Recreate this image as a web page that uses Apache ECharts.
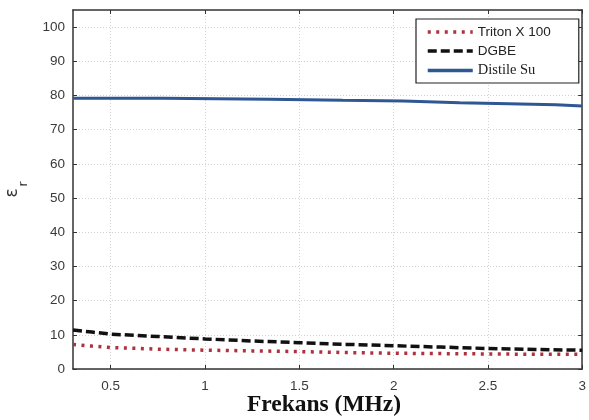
<!DOCTYPE html>
<html>
<head>
<meta charset="utf-8">
<script src="https://cdn.jsdelivr.net/npm/echarts@6/dist/echarts.min.js"></script>
<style>
  html, body { margin: 0; padding: 0; background: #fff; }
  #chart { width: 589px; height: 420px; }
</style>
</head>
<body>
<div id="chart"></div>
<script>
// Relative permittivity vs frequency for three liquids
const seriesNames = ['Triton X 100', 'DGBE', 'Distile Su'];

const tritonFreq = [0.3, 0.4, 0.5, 0.75, 1.0, 1.25, 1.5, 1.75, 2.0, 2.25, 2.5, 2.75, 3.0];
const tritonEps  = [7.2, 6.7, 6.3, 5.8, 5.5, 5.3, 5.1, 4.8, 4.6, 4.5, 4.4, 4.3, 4.3];

const dgbeFreq = [0.3, 0.4, 0.5, 0.75, 1.0, 1.25, 1.5, 1.75, 2.0, 2.25, 2.5, 2.75, 3.0];
const dgbeEps  = [11.4, 10.8, 10.2, 9.5, 8.8, 8.2, 7.7, 7.2, 6.8, 6.4, 6.0, 5.7, 5.5];

const waterFreq = [0.3, 0.78, 1.34, 1.73, 2.05, 2.35, 2.61, 2.86, 3.0];
const waterEps  = [79.2, 78.9, 78.6, 78.4, 77.9, 77.6, 77.3, 76.9, 76.9];

const xTicks = [0.5, 1, 1.5, 2, 2.5, 3];
const yMin = 0, yMax = 105, yStep = 10;
const xMin = 0.3, xMax = 3;

const pair = (xs, ys) => xs.map((x, i) => [x, ys[i]]);

const tickFont = { color: '#3a3a3a', fontSize: 13.5, fontFamily: 'Liberation Sans, Arial, sans-serif' };

const chart = echarts.init(document.getElementById('chart'), null, { renderer: 'canvas' });

chart.setOption({
  animation: false,
  backgroundColor: '#fff',
  grid: { left: 73, right: 6, top: 10, bottom: 51 },
  xAxis: [
    {
      type: 'value', min: xMin, max: xMax, position: 'bottom',
      axisLine: { onZero: false, lineStyle: { color: '#333', width: 1.5 } },
      axisTick: { inside: true, length: 4, lineStyle: { color: '#333' },
        customValues: xTicks },
      axisLabel: { ...tickFont, margin: 10, customValues: xTicks,
        formatter: v => String(v) },
      splitLine: { show: true, lineStyle: { color: '#d2d2d2', type: [1, 2], width: 1 } },
      interval: 0.5
    },
    {
      type: 'value', min: xMin, max: xMax, position: 'top',
      axisLine: { show: true, onZero: false, lineStyle: { color: '#333', width: 1.5 } },
      axisTick: { inside: true, length: 4, lineStyle: { color: '#333' }, customValues: xTicks },
      axisLabel: { show: false },
      splitLine: { show: false }
    }
  ],
  yAxis: [
    {
      type: 'value', min: yMin, max: yMax, interval: yStep, position: 'left',
      axisLine: { show: true, lineStyle: { color: '#333', width: 1.5 } },
      axisTick: { inside: true, length: 4, lineStyle: { color: '#333' } },
      axisLabel: { ...tickFont, margin: 8, showMaxLabel: false },
      splitLine: { show: true, lineStyle: { color: '#d2d2d2', type: [1, 2], width: 1 },
        showMaxLine: false }
    },
    {
      type: 'value', min: yMin, max: yMax, interval: yStep, position: 'right',
      axisLine: { show: true, lineStyle: { color: '#333', width: 1.5 } },
      axisTick: { inside: true, length: 4, lineStyle: { color: '#333' } },
      axisLabel: { show: false },
      splitLine: { show: false }
    }
  ],
  legend: {
    orient: 'vertical',
    left: 416, top: 19,
    padding: [6, 28, 5, 10],
    itemWidth: 45, itemHeight: 10, itemGap: 5,
    backgroundColor: '#fff',
    borderColor: '#222', borderWidth: 1.2, borderRadius: 0,
    itemStyle: { color: 'rgba(0,0,0,0)', borderWidth: 0 },
    lineStyle: { width: 3.5 },
    data: seriesNames,
    formatter: name => name === 'Distile Su' ? '{serif|' + name + '}' : '{sans|' + name + '}',
    textStyle: {
      rich: {
        sans: { fontFamily: 'Liberation Sans, Arial, sans-serif', fontSize: 13.5, color: '#222' },
        serif: { fontFamily: 'Liberation Serif, Times New Roman, serif', fontSize: 14.5, color: '#222' }
      }
    }
  },
  series: [
    {
      name: seriesNames[0], type: 'line', symbol: 'none',
      data: pair(tritonFreq, tritonEps),
      lineStyle: { color: '#b0303e', width: 3.5, type: [3, 5.5] },
      itemStyle: { color: '#b0303e' }
    },
    {
      name: seriesNames[1], type: 'line', symbol: 'none',
      data: pair(dgbeFreq, dgbeEps),
      lineStyle: { color: '#111', width: 3.5, type: [9, 4] },
      itemStyle: { color: '#111' }
    },
    {
      name: seriesNames[2], type: 'line', symbol: 'none', step: 'end',
      data: pair(waterFreq, waterEps),
      lineStyle: { color: '#2f5794', width: 3 },
      itemStyle: { color: '#2f5794' }
    }
  ],
  graphic: [
    {
      type: 'text', x: 324, y: 405, style: {
        text: 'Frekans (MHz)', fill: '#111',
        font: 'bold 23.5px "Liberation Serif", "Times New Roman", serif',
        align: 'center', verticalAlign: 'middle'
      }
    },
    {
      type: 'text', x: 13, y: 193, rotation: Math.PI / 2, style: {
        text: 'ε', fill: '#333',
        font: '17px "DejaVu Sans", sans-serif',
        align: 'center', verticalAlign: 'middle'
      }
    },
    {
      type: 'text', x: 24, y: 184, rotation: Math.PI / 2, style: {
        text: 'r', fill: '#333',
        font: '12px "DejaVu Sans", sans-serif',
        align: 'center', verticalAlign: 'middle'
      }
    }
  ]
});
</script>
</body>
</html>
